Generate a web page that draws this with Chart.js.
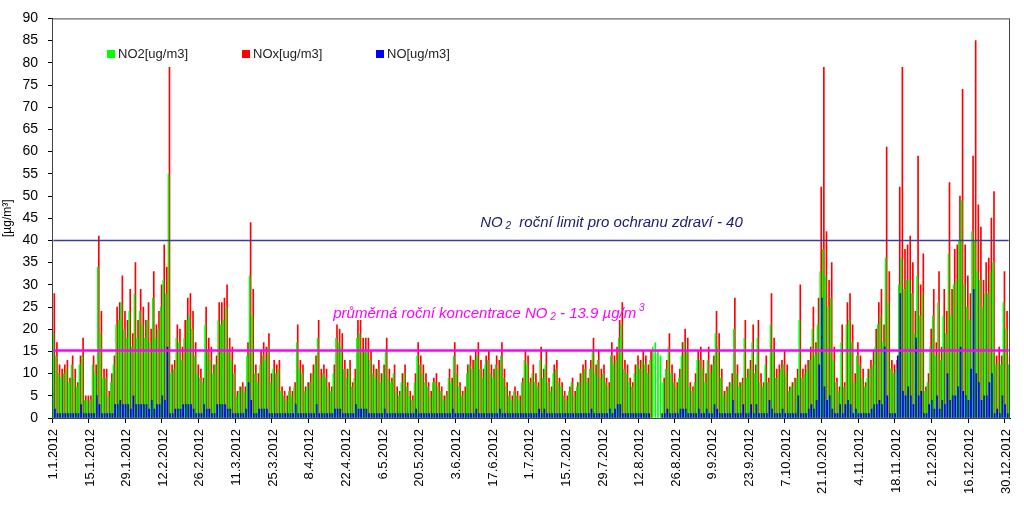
<!DOCTYPE html>
<html>
<head>
<meta charset="utf-8">
<script src="https://cdn.jsdelivr.net/npm/chart.js@4/dist/chart.umd.min.js"></script>
<style>
html, body { margin: 0; padding: 0; background: #fff; }
canvas { display: block; }
</style>
</head>
<body>
<canvas id="chart" width="1024" height="514"></canvas>
<script>
// Daily values 2012 (µg/m3), one array per month
const noxJan = [28,17,12,11,12,13,9,14,11,8,14,18,5,5,5,14,12,41,24,11,11,6,10,14,25,26,32,24,22,29,19];
const noxFeb = [35,22,29,25,22,26,20,33,21,24,30,39,34,79,12,13,21,20,16,22,27,28,24,17,12,11,9,25,18];
const noxMar = [16,12,14,26,26,27,30,18,16,12,6,7,8,7,17,44,29,12,10,15,17,16,19,10,13,12,13,7,6,5,7];
const noxApr = [6,8,21,13,12,7,8,10,12,14,22,11,12,11,8,7,12,21,20,19,13,11,13,8,11,22,22,18,18,18];
const noxMay = [15,12,11,13,10,12,18,11,9,12,7,6,10,12,8,6,5,10,17,14,12,10,8,6,9,10,8,7,5,6,11];
const noxJun = [9,17,12,8,6,7,12,14,13,15,17,13,11,14,15,12,11,14,13,17,11,8,6,5,7,6,5,9,15,14];
const noxJul = [9,12,10,8,16,11,15,9,7,12,13,9,8,6,5,7,9,6,8,10,12,13,9,13,18,12,15,11,12,9,8];
const noxAug = [17,14,16,22,26,13,12,9,8,12,14,13,15,14,12,15,null,null,null,null,9,13,19,12,10,8,11,17,20,18,8];
const noxSep = [7,10,15,16,13,10,16,12,14,24,19,11,6,7,8,10,27,12,8,9,22,11,13,21,12,22,10,8,14,9];
const noxOct = [28,18,11,12,13,15,12,7,8,9,11,30,11,12,13,16,25,17,27,52,79,42,31,35,16,9,7,21,8,26,28];
const noxNov = [21,10,17,14,11,8,11,13,15,20,26,29,21,61,33,13,12,13,52,79,38,39,41,35,24,59,30,37,7,10];
const noxDec = [20,29,17,33,16,29,24,53,29,38,39,50,74,39,32,28,59,85,48,43,31,35,36,45,51,14,16,14,33,24,14];

const no2Jan = [19,14,10,9,10,11,8,12,9,7,12,14,4,4,4,12,10,34,19,9,9,5,8,12,21,22,26,20,18,24,16];
const no2Feb = [28,18,24,21,18,22,17,27,18,20,25,31,28,55,10,11,18,17,13,18,22,23,20,14,10,9,8,21,15];
const no2Mar = [13,10,12,22,21,22,25,15,13,10,5,6,7,6,14,32,23,10,8,12,14,13,16,8,11,10,11,6,5,4,6];
const no2Apr = [5,7,17,11,10,6,7,8,10,12,18,9,10,9,7,6,10,18,17,16,11,9,11,7,9,18,19,15,15,15];
const no2May = [13,10,9,11,8,10,15,9,8,10,6,5,8,10,7,5,4,8,14,12,10,8,7,5,8,8,7,6,4,5,9];
const no2Jun = [8,14,10,7,5,6,10,12,11,13,14,11,9,12,13,10,9,12,11,14,9,7,5,4,6,5,4,8,13,12];
const no2Jul = [8,10,8,7,13,9,12,8,6,10,11,8,7,5,4,6,8,5,7,8,10,11,8,11,15,10,13,9,10,8,7];
const no2Aug = [14,12,13,18,21,11,10,8,7,10,12,11,13,12,10,13,16,17,15,14,8,11,16,10,8,7,9,14,17,15,7];
const no2Sep = [6,8,13,13,11,8,13,10,12,19,16,9,5,6,7,8,20,10,7,8,18,9,11,17,10,18,8,7,12,8];
const no2Oct = [21,15,9,10,11,12,10,6,7,8,9,22,9,10,11,13,20,14,21,33,38,32,25,27,13,8,6,17,7,21,22];
const no2Nov = [17,8,14,12,9,7,9,11,12,16,21,23,17,36,26,11,10,11,30,36,29,31,31,28,19,32,23,28,6,8];
const no2Dec = [16,23,14,26,13,23,19,37,23,30,31,40,49,30,25,22,42,40,33,31,25,28,28,33,35,12,13,12,26,20,12];

const noJan = [6,2,1,1,1,1,1,1,1,1,1,3,1,1,1,1,1,5,3,1,1,1,1,1,3,3,4,3,3,3,2];
const noFeb = [5,3,3,3,3,3,2,4,2,3,3,5,4,16,1,1,2,2,2,3,3,3,3,2,1,1,1,3,2];
const noMar = [2,1,1,3,3,3,3,2,2,1,1,1,1,1,2,8,4,1,1,2,2,2,2,1,1,1,1,1,1,1,1];
const noApr = [1,1,3,1,1,1,1,1,1,1,3,1,1,1,1,1,1,2,2,2,1,1,1,1,1,3,2,2,2,2];
const noMay = [1,1,1,1,1,1,2,1,1,1,1,1,1,1,1,1,1,1,2,1,1,1,1,1,1,1,1,1,1,1,1];
const noJun = [1,2,1,1,1,1,1,1,1,1,2,1,1,1,1,1,1,1,1,2,1,1,1,1,1,1,1,1,1,1];
const noJul = [1,1,1,1,2,1,2,1,1,1,1,1,1,1,1,1,1,1,1,1,1,1,1,1,2,1,1,1,1,1,1];
const noAug = [2,1,2,3,3,1,1,1,1,1,1,1,1,1,1,1,null,null,null,null,1,1,2,1,1,1,1,2,2,2,1];
const noSep = [1,1,1,2,1,1,2,1,1,3,2,1,1,1,1,1,4,1,1,1,3,1,1,3,1,3,1,1,1,1];
const noOct = [4,2,1,1,1,2,1,1,1,1,1,5,1,1,1,2,3,2,4,12,27,7,4,5,2,1,1,3,1,3,4];
const noNov = [3,1,2,1,1,1,1,1,2,3,3,4,3,16,5,1,1,1,14,28,6,5,7,5,3,18,5,6,1,1];
const noDec = [3,4,2,5,2,4,3,10,4,5,5,7,16,6,5,4,11,29,10,8,4,5,5,8,10,1,2,1,5,3,1];

const limitValue = 40;      // roční limit
const meanLineValue = 15.2; // where the magenta line sits in the picture

const noxValues = [].concat(noxJan, noxFeb, noxMar, noxApr, noxMay, noxJun, noxJul, noxAug, noxSep, noxOct, noxNov, noxDec);
const no2Values = [].concat(no2Jan, no2Feb, no2Mar, no2Apr, no2May, no2Jun, no2Jul, no2Aug, no2Sep, no2Oct, no2Nov, no2Dec);
const noValues = [].concat(noJan, noFeb, noMar, noApr, noMay, noJun, noJul, noAug, noSep, noOct, noNov, noDec);

// Category labels: every day of 2012
const days = [];
for (let i = 0; i < 366; i++) {
    const d = new Date(Date.UTC(2012, 0, 1 + i));
    days.push(d.getUTCDate() + '.' + (d.getUTCMonth() + 1) + '.2012');
}

const FONT = '"Liberation Sans", Arial, sans-serif';

// Texts inside the plot (legend + annotations)
function drawParts(ctx, parts, cx, y, color) {
    let total = 0;
    parts.forEach(p => { ctx.font = 'italic ' + p.size + 'px ' + FONT; p.w = ctx.measureText(p.t).width; total += p.w; });
    let x = cx - total / 2;
    ctx.fillStyle = color;
    ctx.textBaseline = 'alphabetic';
    ctx.textAlign = 'left';
    parts.forEach(p => {
        ctx.font = 'italic ' + p.size + 'px ' + FONT;
        ctx.fillText(p.t, x, y + (p.dy || 0));
        x += p.w;
    });
}

const overlay = {
    id: 'overlay',
    afterDraw(chart) {
        const ctx = chart.ctx;
        const a = chart.chartArea;
        const y = chart.scales.y;
        ctx.save();
        // frame
        ctx.strokeStyle = '#444';
        ctx.lineWidth = 1;
        ctx.strokeRect(a.left + 0.5, a.top + 0.5, a.right - a.left - 1, a.bottom - a.top);

        // legend
        const items = [['NO2[ug/m3]', '#00ff00', 107], ['NOx[ug/m3]', '#ff0000', 242], ['NO[ug/m3]', '#0000ff', 376]];
        ctx.font = '13px ' + FONT;
        ctx.textBaseline = 'alphabetic';
        ctx.textAlign = 'left';
        items.forEach(it => {
            ctx.fillStyle = it[1];
            ctx.fillRect(it[2], 50, 8, 8);
            ctx.fillStyle = '#222';
            ctx.fillText(it[0], it[2] + 11, 58);
        });

        const w = a.right - a.left;
        drawParts(ctx, [
            { t: 'NO', size: 15 }, { t: ' 2', size: 10, dy: 2 },
            { t: '  roční limit pro ochranu zdraví - 40', size: 15 }
        ], a.left + w * 0.584, y.getPixelForValue(limitValue) - 13, '#1a1a70');

        drawParts(ctx, [
            { t: 'průměrná roční koncentrace NO', size: 15 }, { t: ' 2', size: 10, dy: 2 },
            { t: ' - 13.9 µg/m', size: 15 }, { t: ' 3', size: 10, dy: -7 }
        ], a.left + w * 0.456, y.getPixelForValue(meanLineValue) - 33, '#ff00ff');
        ctx.restore();
    }
};

new Chart(document.getElementById('chart'), {
    type: 'bar',
    data: {
        labels: days,
        datasets: [
            { label: 'NO2[ug/m3]', data: no2Values, backgroundColor: '#00ff00', order: 4 },
            { label: 'NOx[ug/m3]', data: noxValues, backgroundColor: '#ff0000', order: 5 },
            { label: 'NO[ug/m3]', data: noValues, backgroundColor: '#0000ff', order: 3 },
            { type: 'line', label: 'limit', data: days.map(() => limitValue), borderColor: '#3c3c9c', borderWidth: 1.5, pointRadius: 0, order: 1 },
            { type: 'line', label: 'prumer', data: days.map(() => meanLineValue), borderColor: '#ff00ff', borderWidth: 2.5, pointRadius: 0, order: 2 }
        ]
    },
    options: {
        responsive: false,
        animation: false,
        datasets: { bar: { barThickness: 1, categoryPercentage: 1 } },
        layout: { padding: { top: 15, right: 14, left: 0, bottom: 0 } },
        plugins: { legend: { display: false }, tooltip: { enabled: false } },
        scales: {
            x: {
                afterFit: s => { s.height = 96; s.paddingRight = 0; s.paddingLeft = 0; },
                ticks: {
                    autoSkip: false, minRotation: 90, maxRotation: 90, padding: 6,
                    color: '#000', font: { family: FONT, size: 13 },
                    callback: function (v, i) { return i % 14 === 0 ? this.getLabelForValue(v) : ''; }
                },
                grid: {
                    drawOnChartArea: false, tickLength: 5,
                    color: c => (c.index % 14 === 0 ? '#000' : 'rgba(0,0,0,0)')
                },
                border: { color: '#000', width: 1 }
            },
            y: {
                min: 0, max: 90,
                afterFit: s => { s.width = 52; },
                ticks: { stepSize: 5, padding: 10, color: '#000', font: { family: FONT, size: 14 } },
                grid: { drawOnChartArea: false, tickLength: 4, color: '#000' },
                border: { color: '#000', width: 1 },
                title: { display: true, text: '[µg/m³]', color: '#000', font: { family: FONT, size: 12 }, padding: 0 }
            }
        }
    },
    plugins: [overlay]
});
</script>
</body>
</html>
